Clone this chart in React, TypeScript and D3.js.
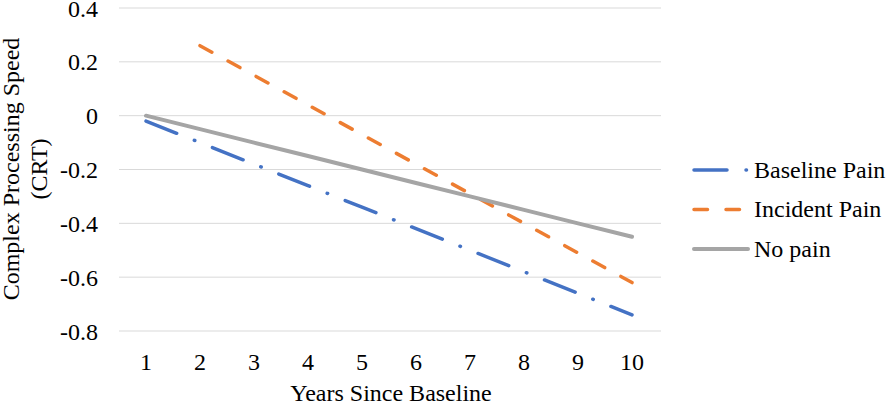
/**
 * CRT trajectories by pain group. Line chart, ref+useEffect pattern, clear+redraw.
 */
import React, { useRef, useEffect } from 'react';
import * as d3 from 'd3';

const WIDTH = 890;
const HEIGHT = 404;
const FONT = '"Liberation Serif", "Times New Roman", serif';

const years = ['1', '2', '3', '4', '5', '6', '7', '8', '9', '10'];
const baselinePain = [-0.02, -0.1, -0.18, -0.26, -0.34, -0.42, -0.5, -0.58, -0.66, -0.74];
const incidentPain = [null, 0.26, 0.15, 0.04, -0.07, -0.18, -0.29, -0.4, -0.51, -0.62];
const noPain = [0, -0.05, -0.1, -0.15, -0.2, -0.25, -0.3, -0.35, -0.4, -0.45];
const yTicks = [0.4, 0.2, 0, -0.2, -0.4, -0.6, -0.8];

const series = [
  { name: 'Baseline Pain', values: baselinePain, color: '#4472C4', dash: '33,19,0.5,19', width: 3.5 },
  { name: 'Incident Pain', values: incidentPain, color: '#ED7D31', dash: '13.5,18.5', width: 3.5 },
  { name: 'No pain', values: noPain, color: '#A5A5A5', dash: null, width: 4 },
];

// Excel-style labels: plain hyphen, bare 0
const fmt = (v: number): string => (v === 0 ? '0' : v.toFixed(1));

const App: React.FC = () => {
  const svgRef = useRef<SVGSVGElement>(null);

  useEffect(() => {
    if (!svgRef.current) return;
    const svg = d3.select(svgRef.current);
    svg.selectAll('*').remove();

    const x = d3.scaleBand<string>().domain(years).range([119, 659]);
    const y = d3.scaleLinear().domain([-0.8, 0.4]).range([331, 8]);
    const cx = (d: string) => (x(d) ?? 0) + x.bandwidth() / 2;

    // Gridlines
    svg.append('g')
      .selectAll('line')
      .data(yTicks)
      .join('line')
      .attr('x1', 119)
      .attr('x2', 661)
      .attr('y1', (d) => y(d))
      .attr('y2', (d) => y(d))
      .attr('stroke', '#D9D9D9')
      .attr('stroke-width', 1);

    // Y tick labels
    svg.append('g')
      .selectAll('text')
      .data(yTicks)
      .join('text')
      .attr('x', 98)
      .attr('y', (d) => y(d))
      .attr('dy', '0.36em')
      .attr('text-anchor', 'end')
      .attr('font-family', FONT)
      .attr('font-size', '24px')
      .attr('fill', '#000')
      .text((d) => fmt(d));

    // X tick labels
    svg.append('g')
      .selectAll('text')
      .data(years)
      .join('text')
      .attr('x', (d) => cx(d))
      .attr('y', 370)
      .attr('text-anchor', 'middle')
      .attr('font-family', FONT)
      .attr('font-size', '24px')
      .attr('fill', '#000')
      .text((d) => d);

    // Axis titles
    svg.append('text')
      .attr('x', 391)
      .attr('y', 401)
      .attr('text-anchor', 'middle')
      .attr('font-family', FONT)
      .attr('font-size', '24px')
      .attr('fill', '#000')
      .text('Years Since Baseline');

    const yt = svg.append('text')
      .attr('transform', 'translate(0, 169) rotate(-90)')
      .attr('text-anchor', 'middle')
      .attr('font-family', FONT)
      .attr('font-size', '24px')
      .attr('fill', '#000');
    yt.append('tspan').attr('x', 0).attr('y', 19).text('Complex Processing Speed');
    yt.append('tspan').attr('x', 0).attr('y', 47).text('(CRT)');

    // Lines
    const line = d3
      .line<number | null>()
      .defined((d) => d !== null)
      .x((_, i) => cx(years[i]))
      .y((d) => y(d as number));

    series.forEach((s) => {
      svg.append('path')
        .attr('d', line(s.values) ?? '')
        .attr('fill', 'none')
        .attr('stroke', s.color)
        .attr('stroke-width', s.width)
        .attr('stroke-linecap', 'round')
        .attr('stroke-dasharray', s.dash);
    });

    // Legend
    const lg = svg.append('g');
    series.forEach((s, i) => {
      const ly = 170 + i * 39.5;
      lg.append('line')
        .attr('x1', 694)
        .attr('x2', 748)
        .attr('y1', ly)
        .attr('y2', ly)
        .attr('stroke', s.color)
        .attr('stroke-width', s.width)
        .attr('stroke-linecap', 'round')
        .attr('stroke-dasharray', s.dash);
      lg.append('text')
        .attr('x', 754)
        .attr('y', ly)
        .attr('dy', '0.33em')
        .attr('font-family', FONT)
        .attr('font-size', '24px')
        .attr('fill', '#000')
        .text(s.name);
    });
  }, []);

  return (
    <svg
      ref={svgRef}
      width={WIDTH}
      height={HEIGHT}
      style={{ position: 'absolute', left: 0, top: 0, background: '#fff' }}
    />
  );
};

export default App;
